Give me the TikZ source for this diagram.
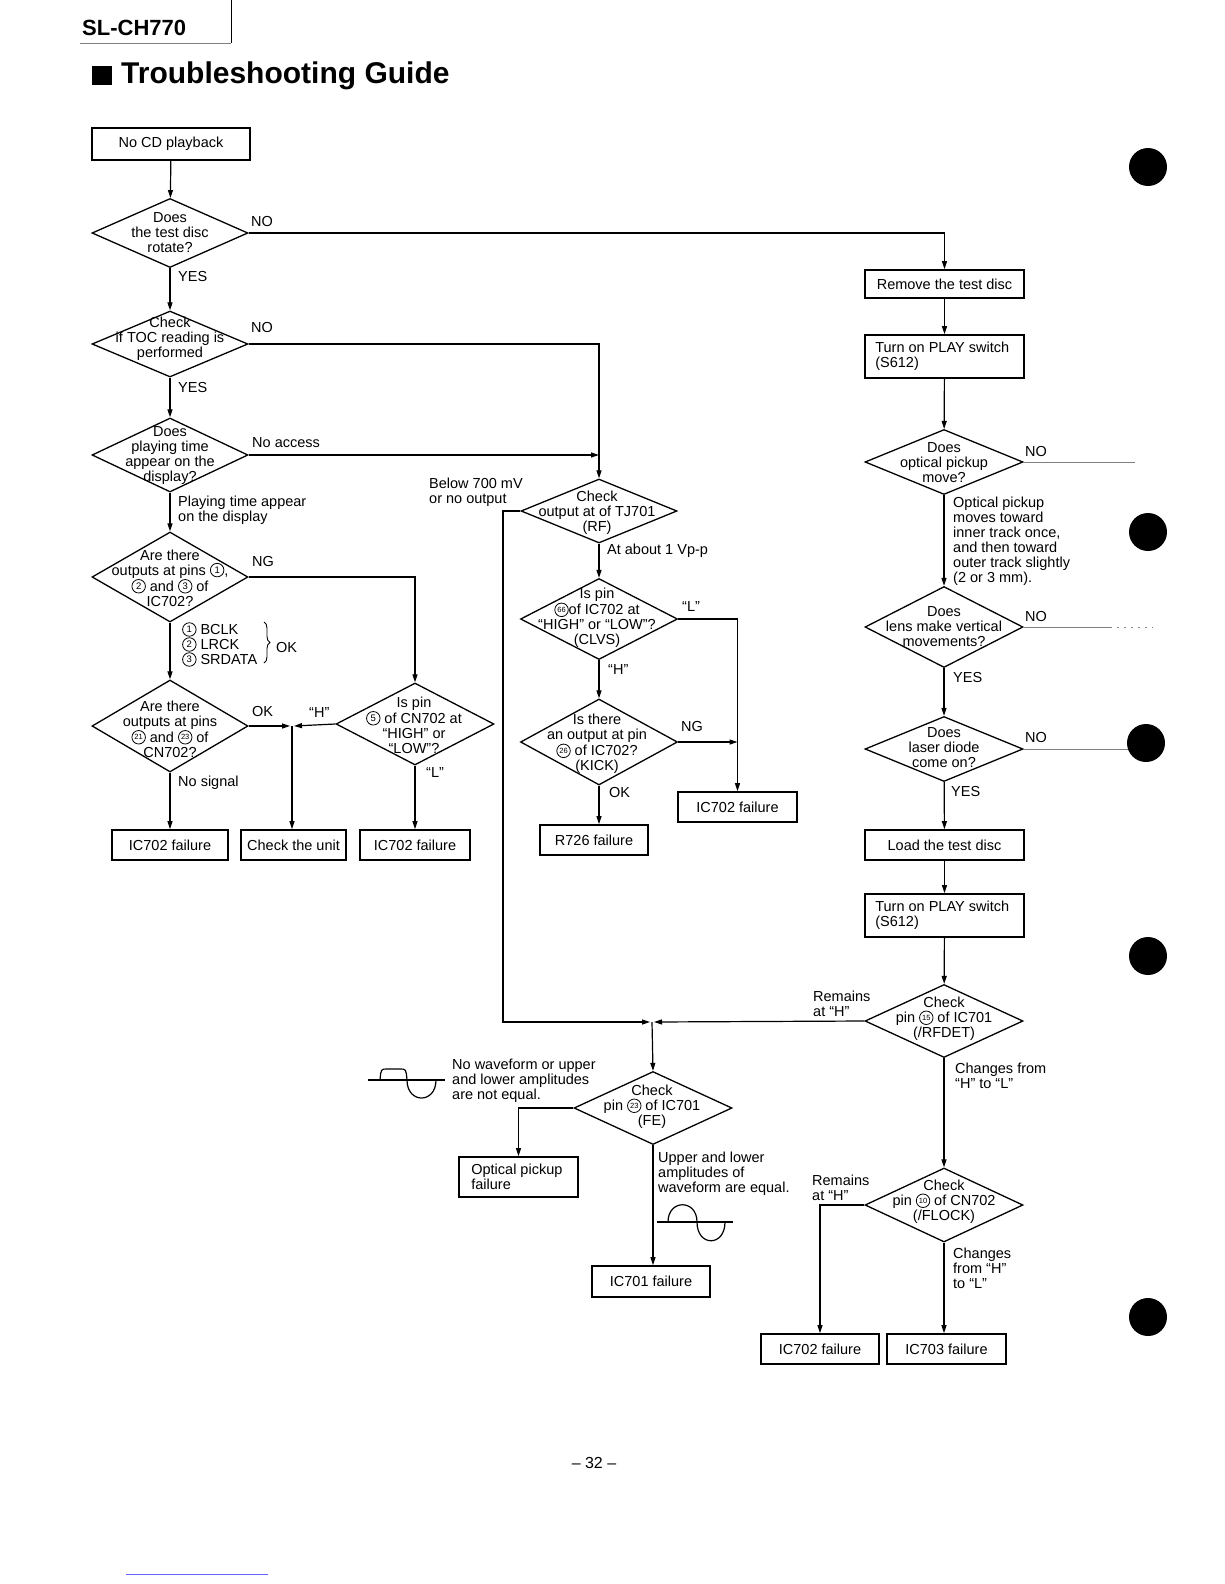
\documentclass[tikz,border=0pt]{standalone}
\usepackage{fontspec}
\setmainfont{Liberation Sans}
\usetikzlibrary{shapes.geometric,arrows.meta,decorations.pathreplacing}
\newcommand\fs{\fontsize{14.5}{15}\selectfont}
\newcommand\cn[1]{\tikz[baseline={([yshift=-5pt]cnd.center)}]\node[circle,draw,line width=0.8pt,inner sep=0pt,minimum size=13.5pt,font=\fontsize{9.5}{9.5}\selectfont](cnd){#1};}
\newcommand\cnn[1]{\tikz[baseline={([yshift=-5pt]cnd.center)}]\node[circle,draw,line width=0.8pt,inner sep=0pt,minimum size=13.5pt,font=\fontsize{7.5}{7.5}\selectfont](cnd){#1};}
\tikzset{
  box/.style={draw,line width=1.7pt,inner sep=0pt,font=\fs},
  dia/.style={draw,diamond,line width=1.3pt,inner sep=0pt},
  dtext/.style={align=center,inner sep=0pt,font=\fs},
  lbl/.style={align=left,inner sep=0pt,font=\fs,anchor=west},
  ln/.style={line width=1.2pt},
  arr/.style={line width=1.2pt,-{Triangle[length=8pt,width=5pt]}},
  faint/.style={line width=0.8pt,gray},
}
\begin{document}
\begin{tikzpicture}[x=1pt,y=-1pt]
\useasboundingbox (0,0) rectangle (1224,1584);
% header
\node[anchor=west,inner sep=0pt,font=\bfseries\fontsize{22}{22}\selectfont] (model) at (82,28) {SL-CH770};
\draw[line width=1pt] (231,0) -- (231,43);
\draw[faint,line width=0.6pt] (80,43) -- (231,43);
\fill (92,66) rectangle (112,85);
\node[anchor=west,inner sep=0pt,font=\bfseries\fontsize{30}{30}\selectfont] (title) at (121,76) {Troubleshooting Guide};

% left column
\node[box,minimum width=158pt,minimum height=32pt] (nocd) at (171,144) {No CD playback};
\node[dia,minimum width=156pt,minimum height=69pt] (d1) at (170,233) {};
\node[dtext] (d1t) at (170,233) {Does\\the test disc\\rotate?};
\node[dia,minimum width=156pt,minimum height=66pt] (d2) at (170,344) {};
\node[dtext] (d2t) at (170,339) {Check\\if TOC reading is\\performed};
\node[dia,minimum width=156pt,minimum height=74pt] (d3) at (170,455) {};
\node[dtext] (d3t) at (170,456) {Does\\playing time\\appear on the\\display?};
\node[dia,minimum width=156pt,minimum height=90pt] (d5) at (170,577) {};
\node[dtext] (d5t) at (170,578) {Are there\\outputs at pins \cn{1},\\\cn{2} and \cn{3} of\\IC702?};
\node[dia,minimum width=156pt,minimum height=92pt] (d6) at (170,726) {};
\node[dtext] (d6t) at (170,729) {Are there\\outputs at pins\\\cnn{21} and \cnn{23} of\\CN702?};
\node[dia,minimum width=158pt,minimum height=82pt] (d7) at (415,724) {};
\node[dtext] (d7t) at (414,725) {Is pin\\\cn{5} of CN702 at\\“HIGH” or\\“LOW”?};
\node[box,minimum width=116pt,minimum height=30pt] (f1) at (170,845) {IC702 failure};
\node[box,minimum width=105pt,minimum height=30pt] (chk) at (293.5,845) {Check the unit};
\node[box,minimum width=110pt,minimum height=30pt] (f2) at (415,845) {IC702 failure};
\coordinate (m1) at (292,726);

% middle column
\node[dia,minimum width=156pt,minimum height=64pt] (d4) at (599,511) {};
\node[dtext] (d4t) at (597,513) {Check\\output at of TJ701\\(RF)};
\node[dia,minimum width=157pt,minimum height=81pt] (d8) at (599,619) {};
\node[dtext] (d8t) at (597,618) {Is pin\\\cnn{66}of IC702 at\\“HIGH” or “LOW”?\\(CLVS)};
\node[dia,minimum width=157pt,minimum height=86pt] (d9) at (599,742) {};
\node[dtext] (d9t) at (597,744) {Is there\\an output at pin\\\cnn{26} of IC702?\\(KICK)};
\node[box,minimum width=108pt,minimum height=30pt] (r726) at (594,840) {R726 failure};
\node[box,minimum width=119pt,minimum height=30pt] (f3) at (737.5,807) {IC702 failure};
\coordinate (c1) at (503,1022);
\coordinate (m2) at (652,1022);
\node[dia,minimum width=158pt,minimum height=73pt] (d14) at (653,1108) {};
\node[dtext] (d14t) at (652,1107) {Check\\pin \cnn{23} of IC701\\(FE)};
\node[box,minimum width=119pt,minimum height=40pt] (optf) at (518.5,1177) {};
\node[lbl] (optft) at ([xshift=13pt]optf.west) {Optical pickup\\failure};
\node[box,minimum width=118pt,minimum height=31pt] (f4) at (651,1281.5) {IC701 failure};

% right column
\node[box,minimum width=159pt,minimum height=28pt] (rem) at (944.5,284) {Remove the test disc};
\node[box,minimum width=159pt,minimum height=43pt] (play1) at (944.5,356.5) {};
\node[lbl] (play1t) at ([xshift=11pt]play1.west) {Turn on PLAY switch\\(S612)};
\node[dia,minimum width=158pt,minimum height=65pt] (d10) at (944,462) {};
\node[dtext] (d10t) at (944,463) {Does\\optical pickup\\move?};
\node[dia,minimum width=158pt,minimum height=81pt] (d11) at (944,627) {};
\node[dtext] (d11t) at (944,627) {Does\\lens make vertical\\movements?};
\node[dia,minimum width=158pt,minimum height=65pt] (d12) at (944,749) {};
\node[dtext] (d12t) at (944,748) {Does\\laser diode\\come on?};
\node[box,minimum width=159pt,minimum height=30pt] (load) at (944.5,845) {Load the test disc};
\node[box,minimum width=159pt,minimum height=43pt] (play2) at (944.5,915.5) {};
\node[lbl] (play2t) at ([xshift=11pt]play2.west) {Turn on PLAY switch\\(S612)};
\node[dia,minimum width=158pt,minimum height=73pt] (d13) at (944,1021) {};
\node[dtext] (d13t) at (944,1019) {Check\\pin \cnn{15} of IC701\\(/RFDET)};
\node[dia,minimum width=158pt,minimum height=74pt] (d15) at (944,1205) {};
\node[dtext] (d15t) at (944,1202) {Check\\pin \cnn{10} of CN702\\(/FLOCK)};
\node[box,minimum width=118pt,minimum height=30pt] (f5) at (820,1349) {IC702 failure};
\node[box,minimum width=119pt,minimum height=30pt] (f6) at (946.5,1349) {IC703 failure};
\coordinate (e10) at (1135,462);
\coordinate (e11a) at (1110,627);
\coordinate (e11) at (1153,627);
\coordinate (e12) at (1160,749);

% connectors left
\draw[arr] (nocd) -- (d1);
\draw[arr] (d1) -- (d2);
\draw[arr] (d2) -- (d3);
\draw[arr] (d3) -- (d5);
\draw[arr] (d5) -- (d6);
\draw[arr] (d6) -- (f1);
\draw[arr] (d7) -- (f2);
\draw[arr] (d6.east) -- ([xshift=-2pt]m1);
\draw[arr] (d7.west) -- ([xshift=2pt]m1);
\draw[arr] (m1) -- (m1 |- chk.north);
\draw[arr] (d5.east) -| (d7.north);
\draw[arr] (d1.east) -| (rem.north);
\draw[arr] (d2.east) -| (d4.north);
\draw[arr] (d3.east) -- (d3.east -| d4.north);
% middle
\draw[arr] (d4) -- (d8);
\draw[arr] (d8) -- (d9);
\draw[arr] (d9.south) -- (d9.south |- r726.north);
\draw[arr] (d8.east) -| (f3.north);
\draw[arr] (d9.east) -- (d9.east -| f3.north);
\draw[arr] (d4.west) -| (c1) -- ([xshift=-2pt]m2);
\draw[arr] (d13.west) -- ([xshift=2pt]m2);
\draw[arr] (m2) -- (d14.north);
\draw[arr] (d14.west) -| (optf.north);
\draw[arr] (d14.south) -- (d14.south |- f4.north);
% right
\draw[arr] (rem) -- (play1);
\draw[arr] (play1) -- (d10);
\draw[arr] (d10) -- (d11);
\draw[arr] (d11) -- (d12);
\draw[arr] (d12) -- (load);
\draw[arr] (load) -- (play2);
\draw[arr] (play2) -- (d13);
\draw[arr] (d13) -- (d15);
\draw[arr] (d15.south) -- (d15.south |- f6.north);
\draw[arr] (d15.west) -| (f5.north);
\draw[faint] (d10.east) -- (e10);
\draw[faint] (d11.east) -- (e11a);
\draw[faint,dash pattern=on 2pt off 5pt] (e11a) -- (e11);
\draw[faint] (d12.east) -- (e12);

% labels
\node[lbl] (l1) at (251,222) {NO};
\node[lbl] (l2) at (178,277) {YES};
\node[lbl] (l3) at (251,328) {NO};
\node[lbl] (l4) at (178,388) {YES};
\node[lbl] (l5) at (252,443) {No access};
\node[lbl] (l6) at (178,510.5) {Playing time appear\\on the display};
\node[lbl] (l7) at (252,562) {NG};
\node[lbl] (l8) at (182,644.5) {\cn{1} BCLK\\\cn{2} LRCK\\\cn{3} SRDATA};
\draw[line width=0.9pt,decorate,decoration={brace,amplitude=6pt}] (264,622) -- (264,663);
\node[lbl] (l9) at (276,648) {OK};
\node[lbl] (l10) at (252,712) {OK};
\node[lbl] (l11) at (309,713) {“H”};
\node[lbl] (l12) at (426,773) {“L”};
\node[lbl] (l13) at (178,783) {No signal};
\node[lbl] (l14) at (429,492.5) {Below 700 mV\\or no output};
\node[lbl] (l15) at (607,551) {At about 1 Vp-p};
\node[lbl] (l16) at (682,607) {“L”};
\node[lbl] (l17) at (608,670) {“H”};
\node[lbl] (l18) at (681,727) {NG};
\node[lbl] (l19) at (609,792) {OK};
\node[lbl] (l20) at (1025,452) {NO};
\node[lbl] (l21) at (953,541.5) {Optical pickup\\moves toward\\inner track once,\\and then toward\\outer track slightly\\(2 or 3 mm).};
\node[lbl] (l22) at (1025,617) {NO};
\node[lbl] (l23) at (953,678) {YES};
\node[lbl] (l24) at (1025,737) {NO};
\node[lbl] (l25) at (951,791) {YES};
\node[lbl] (l26) at (813,1003.5) {Remains\\at “H”};
\node[lbl] (l27) at (955,1076) {Changes from\\“H” to “L”};
\node[lbl] (l28) at (812,1187.5) {Remains\\at “H”};
\node[lbl] (l29) at (953,1268) {Changes\\from “H”\\to “L”};
\node[lbl] (l30) at (452,1081) {No waveform or upper\\and lower amplitudes\\are not equal.};
\node[lbl] (l31) at (658,1174) {Upper and lower\\amplitudes of\\waveform are equal.};

% waveforms
\draw[line width=1.2pt] (368,1080) -- (445,1080);
\draw[line width=1.2pt] (380,1080) .. controls (381,1069) .. (387,1069) -- (400,1069) .. controls (406,1069) .. (407,1080)
  .. controls (407,1104) and (436,1104) .. (436,1080);
\draw[line width=1.2pt] (657,1222) -- (733,1222);
\draw[line width=1.2pt] (668,1222) .. controls (668,1199) and (697,1199) .. (697,1222)
  .. controls (697,1247) and (725,1247) .. (725,1222);

% page number and marks
\node[font=\fontsize{16}{16}\selectfont] (pg) at (594,1463) {– 32 –};
\fill (1148,167) circle (19);
\fill (1148,532) circle (19);
\fill (1146,743) circle (19);
\fill (1148,956) circle (19);
\fill (1148,1317) circle (19);
\draw[blue!60,line width=0.8pt] (126,1574) -- (268,1574);
\end{tikzpicture}
\end{document}
